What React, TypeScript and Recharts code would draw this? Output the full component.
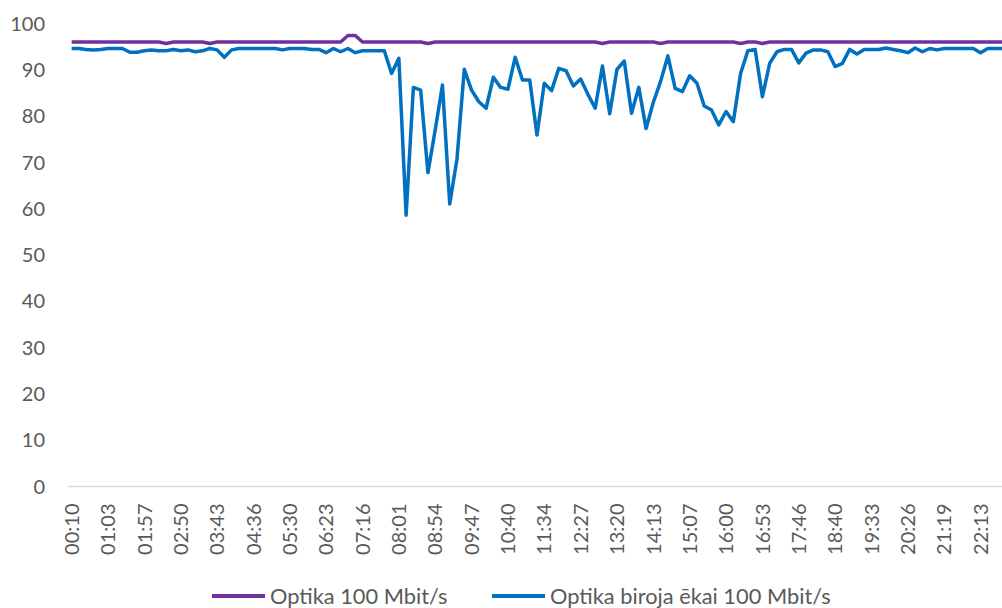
import React from 'react';
import { LineChart, Line, XAxis, YAxis, Legend } from 'recharts';

const tickLabels: string[] = [
  '00:10', '01:03', '01:57', '02:50', '03:43', '04:36', '05:30', '06:23', '07:16',
  '08:01', '08:54', '09:47', '10:40', '11:34', '12:27', '13:20', '14:13', '15:07',
  '16:00', '16:53', '17:46', '18:40', '19:33', '20:26', '21:19', '22:13',
];

const seriesNames: string[] = ['Optika 100 Mbit/s', 'Optika biroja ēkai 100 Mbit/s'];
const seriesColors: string[] = ['#7030A0', '#0070C0'];

const optika: number[] = [
  96, 96, 96, 96, 96, 96, 96, 96, 96, 96,
  96, 96, 96, 95.7, 96, 96, 96, 96, 96, 95.7,
  96, 96, 96, 96, 96, 96, 96, 96, 96, 96,
  96, 96, 96, 96, 96, 96, 96, 96, 97.4, 97.4,
  96, 96, 96, 96, 96, 96, 96, 96, 96, 95.7,
  96, 96, 96, 96, 96, 96, 96, 96, 96, 96,
  96, 96, 96, 96, 96, 96, 96, 96, 96, 96,
  96, 96, 96, 95.7, 96, 96, 96, 96, 96, 96,
  96, 95.7, 96, 96, 96, 96, 96, 96, 96, 96,
  96, 96, 95.7, 96, 96, 95.7, 96, 96, 96, 96,
  96, 96, 96, 96, 96, 96, 96, 96, 96, 96,
  96, 96, 96, 96, 96, 96, 96, 96, 96, 96,
  96, 96, 96, 96, 96, 96, 96, 96, 96,
];

const biroja: number[] = [
  94.6, 94.6, 94.4, 94.3, 94.4, 94.6, 94.6, 94.6, 93.8, 93.8,
  94.1, 94.3, 94.1, 94.1, 94.4, 94.1, 94.3, 93.9, 94.1, 94.6,
  94.3, 92.7, 94.3, 94.6, 94.6, 94.6, 94.6, 94.6, 94.6, 94.3,
  94.6, 94.6, 94.6, 94.4, 94.4, 93.7, 94.6, 93.9, 94.6, 93.7,
  94.1, 94.1, 94.1, 94.1, 89.2, 92.5, 58.6, 86.2, 85.6, 67.8,
  77.0, 86.7, 61.0, 70.8, 90.1, 85.6, 83.1, 81.7, 88.4, 86.2,
  85.8, 92.7, 87.8, 87.8, 75.9, 87.1, 85.5, 90.3, 89.8, 86.5,
  88.0, 84.7, 81.7, 90.8, 80.5, 90.1, 91.9, 80.6, 86.2, 77.3,
  83.0, 87.5, 93.0, 86.0, 85.3, 88.7, 87.1, 82.2, 81.3, 78.1,
  81.0, 78.8, 89.2, 94.1, 94.4, 84.2, 91.4, 93.9, 94.4, 94.4,
  91.5, 93.6, 94.3, 94.3, 93.9, 90.7, 91.4, 94.4, 93.4, 94.4,
  94.4, 94.4, 94.7, 94.4, 94.1, 93.7, 94.7, 93.9, 94.6, 94.3,
  94.6, 94.6, 94.6, 94.6, 94.6, 93.7, 94.6, 94.6, 94.6,
];

const yTicks: number[] = [0, 10, 20, 30, 40, 50, 60, 70, 80, 90, 100];

const LABEL_STEP = 5;

const rows = optika.map((v, i) => ({ i, optika: v, biroja: biroja[i] }));
const xTicks = tickLabels.map((_, k) => k * LABEL_STEP);

const FONT = "Lato, 'Open Sans', sans-serif";
const TEXT_COLOR = '#595959';

const XTick = (props: any) => {
  const { x, y, payload } = props;
  const label = tickLabels[Math.round(payload.value / LABEL_STEP)] ?? '';
  return (
    <g transform={`translate(${x},${y})`}>
      <text
        transform="rotate(-90)"
        x={-17}
        y={0}
        dy="0.36em"
        textAnchor="end"
        fill={TEXT_COLOR}
        fontFamily={FONT}
        fontSize={20}
      >
        {label}
      </text>
    </g>
  );
};

const LegendContent = () => {
  const lefts = [212, 492];
  return (
    <div style={{ position: 'relative', height: 24, width: 1002 }}>
      {seriesNames.map((name, k) => (
        <div
          key={name}
          style={{
            position: 'absolute',
            left: lefts[k],
            top: 0,
            height: 24,
            display: 'flex',
            alignItems: 'center',
            whiteSpace: 'nowrap',
          }}
        >
          <div style={{ width: 53, height: 3.5, background: seriesColors[k], marginRight: 5 }} />
          <span style={{ fontFamily: FONT, fontSize: 21.8, color: TEXT_COLOR, lineHeight: '24px' }}>{name}</span>
        </div>
      ))}
    </div>
  );
};

export default function App() {
  return (
    <div
      style={{
        position: 'fixed',
        left: 0,
        top: 0,
        width: 1002,
        height: 608,
        overflow: 'hidden',
        background: '#ffffff',
      }}
    >
      <LineChart
        width={1010}
        height={608}
        data={rows}
        margin={{ top: 23.5, right: 4, bottom: 0, left: 0 }}
      >
        <XAxis
          dataKey="i"
          type="number"
          domain={[-0.5, optika.length - 0.5]}
          ticks={xTicks}
          interval={0}
          tickLine={false}
          tickSize={0}
          tickMargin={0}
          axisLine={{ stroke: '#D9D9D9', strokeWidth: 1.5 }}
          height={97.5}
          tick={<XTick />}
        />
        <YAxis
          type="number"
          domain={[0, 100]}
          ticks={yTicks}
          interval={0}
          width={68}
          axisLine={false}
          tickLine={false}
          tickSize={0}
          tickMargin={23}
          tick={{ fill: TEXT_COLOR, fontFamily: FONT, fontSize: 20 }}
        />
        <Legend verticalAlign="bottom" height={24} content={<LegendContent />} wrapperStyle={{ left: 0 }} />
        <Line
          type="linear"
          dataKey="optika"
          name={seriesNames[0]}
          stroke={seriesColors[0]}
          strokeWidth={3.5}
          strokeLinejoin="round"
          dot={false}
          activeDot={false}
          isAnimationActive={false}
        />
        <Line
          type="linear"
          dataKey="biroja"
          name={seriesNames[1]}
          stroke={seriesColors[1]}
          strokeWidth={3.5}
          strokeLinejoin="round"
          dot={false}
          activeDot={false}
          isAnimationActive={false}
        />
      </LineChart>
    </div>
  );
}
